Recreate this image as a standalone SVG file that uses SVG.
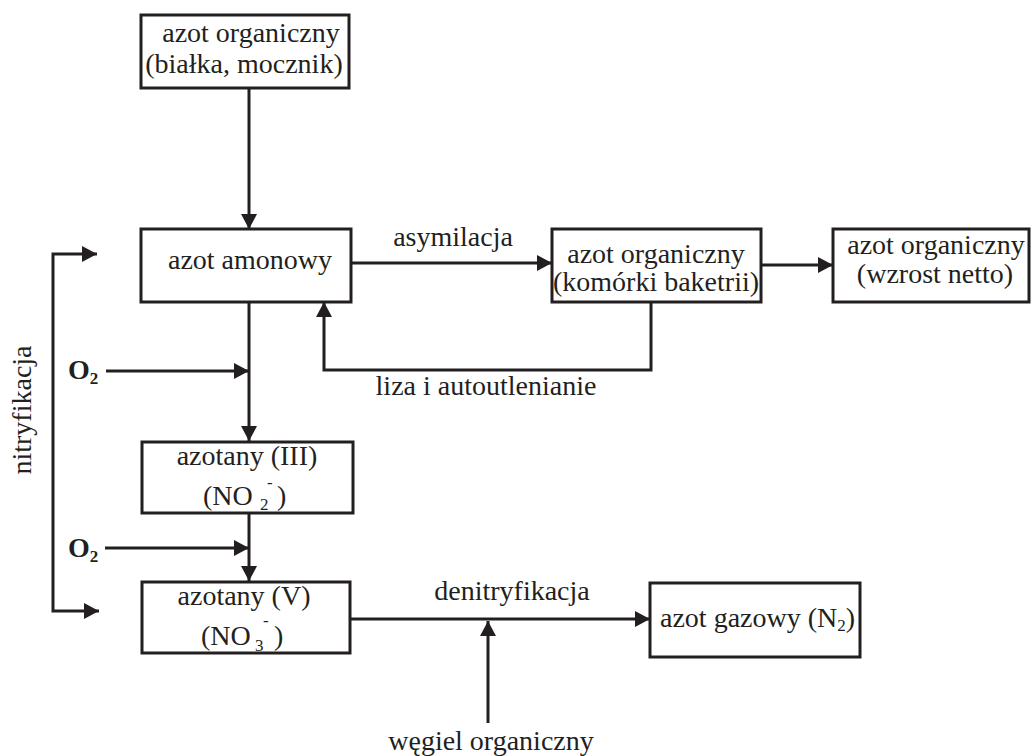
<svg xmlns="http://www.w3.org/2000/svg" width="1032" height="756" viewBox="0 0 1032 756">
<style>
.box{fill:#fff;stroke:#231f20;stroke-width:3}
.t{font-family:"Liberation Serif","Times New Roman",serif;font-size:28px;fill:#231f20;text-anchor:middle}
.s{font-family:"Liberation Serif","Times New Roman",serif;font-size:28px;fill:#231f20}
.sub{font-size:17px}
.b{font-family:"Liberation Serif","Times New Roman",serif;font-size:28px;font-weight:bold;fill:#231f20}
.c{fill:none;stroke:#231f20;stroke-width:3;marker-end:url(#ah)}
</style>
<defs>
<marker id="ah" markerUnits="userSpaceOnUse" markerWidth="16" markerHeight="16" refX="15" refY="8" orient="auto-start-reverse" viewBox="0 0 16 16">
<path d="M0,0 L15,8 L0,16 z" fill="#231f20"/>
</marker>
</defs>
<rect width="1032" height="756" fill="#fff"/>
<g id="connectors">
<path class="c" d="M249,88 V229"/>
<path class="c" d="M351,263 H552"/>
<path class="c" d="M761,265 H833"/>
<path class="c" d="M651,302 V370 H324 V302"/>
<path class="c" d="M249,302 V441"/>
<path class="c" d="M106,371 H249"/>
<path class="c" d="M249,513 V581"/>
<path class="c" d="M105,548 H249"/>
<path class="c" d="M97,254 H53 V611 H99" style="marker-start:url(#ah)"/>
<path class="c" d="M350,619 H650"/>
<path class="c" d="M488,723 V621"/>
<text class="t" x="453" y="246">asymilacja</text>
<text class="t" x="486" y="395">liza i autoutlenianie</text>
<text class="t" x="512" y="600">denitryfikacja</text>
<text class="t" x="491" y="750">węgiel organiczny</text>
<text class="t" transform="translate(31,410) rotate(-90)">nitryfikacja</text>
<text class="b" x="68" y="379">O<tspan class="sub" dy="5">2</tspan></text>
<text class="b" x="68" y="557">O<tspan class="sub" dy="5">2</tspan></text>
</g>
<g id="n-top">
<rect class="box" x="141" y="15" width="208" height="73"/>
<text class="t" x="251" y="42">azot organiczny</text>
<text class="t" x="244" y="73">(białka, mocznik)</text>
</g>
<g id="n-amonowy">
<rect class="box" x="141" y="229" width="210" height="73"/>
<text class="t" x="250" y="269">azot amonowy</text>
</g>
<g id="n-komorki">
<rect class="box" x="552" y="229" width="209" height="73"/>
<text class="t" x="656" y="263">azot organiczny</text>
<text class="t" x="656" y="291">(komórki baketrii)</text>
</g>
<g id="n-wzrost">
<rect class="box" x="833" y="229" width="196" height="73"/>
<text class="t" x="936" y="254">azot organiczny</text>
<text class="t" x="935" y="283">(wzrost netto)</text>
</g>
<g id="n-no2">
<rect class="box" x="142" y="442" width="211" height="71"/>
<text class="t" x="247" y="465">azotany (III)</text>
<text class="s" x="203" y="505">(NO</text>
<text class="s sub" x="260" y="510">2</text>
<text class="s sub" x="267" y="488">-</text>
<text class="s" x="277" y="505">)</text>
</g>
<g id="n-no3">
<rect class="box" x="142" y="582" width="208" height="71"/>
<text class="t" x="244" y="605">azotany (V)</text>
<text class="s" x="201" y="645">(NO</text>
<text class="s sub" x="255" y="651">3</text>
<text class="s sub" x="263" y="626">-</text>
<text class="s" x="274" y="645">)</text>
</g>
<g id="n-gazowy">
<rect class="box" x="650" y="583" width="210" height="74"/>
<text class="s" x="660" y="627">azot gazowy (N<tspan class="sub" dy="4">2</tspan><tspan dy="-4">)</tspan></text>
</g>
</svg>
